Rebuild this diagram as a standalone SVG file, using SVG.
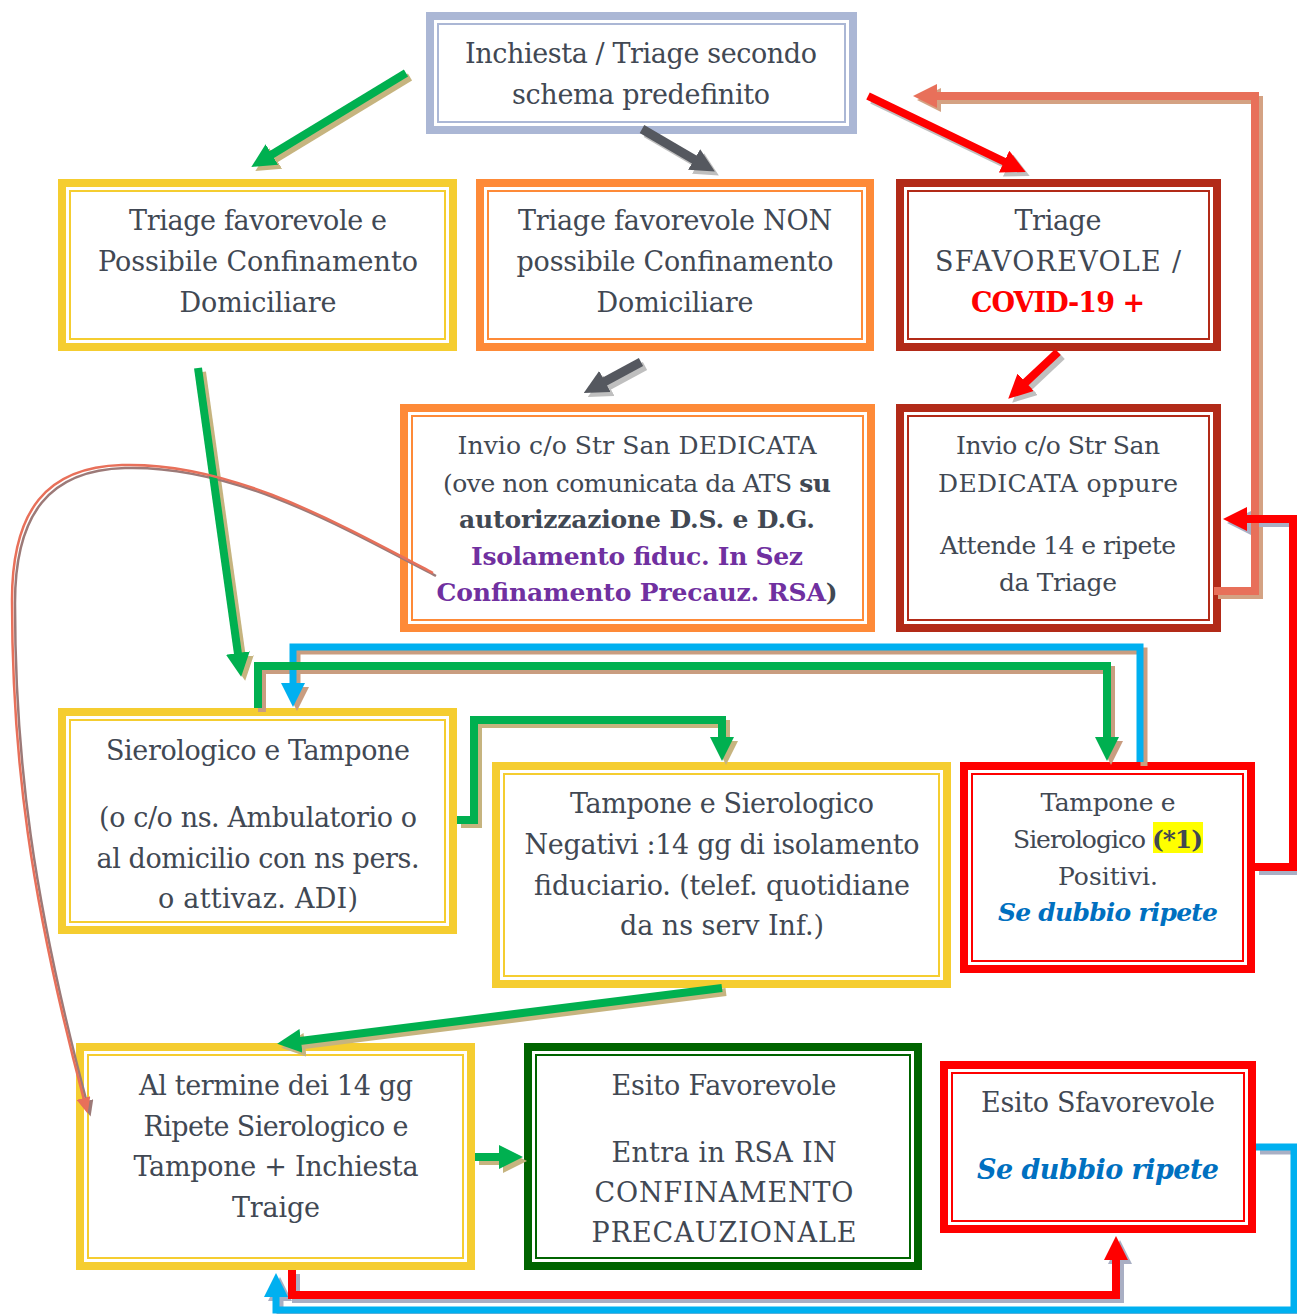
<svg xmlns="http://www.w3.org/2000/svg" width="1297" height="1314" viewBox="0 0 1297 1314">
<style>
.t{font-family:"DejaVu Serif","Liberation Serif",serif;font-size:27px;fill:#414853;text-anchor:middle}
.s{font-size:25px}
.b{font-weight:bold}
.red{fill:#ff0000;font-weight:bold}
.pur{fill:#7030a0;font-weight:bold}
.blu{fill:#0070c0;font-weight:bold;font-style:italic}
.o{fill:#ffffff;stroke-width:8}
.i{fill:none;stroke-width:2}
.ln{fill:none;stroke-linejoin:miter;stroke-linecap:butt}
</style>
<defs>
<marker id="aG" markerUnits="userSpaceOnUse" markerWidth="24" markerHeight="24" viewBox="0 0 24 24" refX="1" refY="12" orient="auto"><path d="M0,0 L24,12 L0,24 z" fill="#00b050"/></marker>
<marker id="aGs" markerUnits="userSpaceOnUse" markerWidth="24" markerHeight="24" viewBox="0 0 24 24" refX="1" refY="12" orient="auto"><path d="M0,0 L24,12 L0,24 z" fill="#c6b47f"/></marker>
<marker id="aK" markerUnits="userSpaceOnUse" markerWidth="24" markerHeight="24" viewBox="0 0 24 24" refX="1" refY="12" orient="auto"><path d="M0,0 L24,12 L0,24 z" fill="#55585f"/></marker>
<marker id="aKs" markerUnits="userSpaceOnUse" markerWidth="24" markerHeight="24" viewBox="0 0 24 24" refX="1" refY="12" orient="auto"><path d="M0,0 L24,12 L0,24 z" fill="#bfbfbf"/></marker>
<marker id="aR" markerUnits="userSpaceOnUse" markerWidth="24" markerHeight="24" viewBox="0 0 24 24" refX="1" refY="12" orient="auto"><path d="M0,0 L24,12 L0,24 z" fill="#ff0000"/></marker>
<marker id="aRs" markerUnits="userSpaceOnUse" markerWidth="24" markerHeight="24" viewBox="0 0 24 24" refX="1" refY="12" orient="auto"><path d="M0,0 L24,12 L0,24 z" fill="#a9afc4"/></marker>
<marker id="aS" markerUnits="userSpaceOnUse" markerWidth="24" markerHeight="24" viewBox="0 0 24 24" refX="1" refY="12" orient="auto"><path d="M0,0 L24,12 L0,24 z" fill="#e8705a"/></marker>
<marker id="aSs" markerUnits="userSpaceOnUse" markerWidth="24" markerHeight="24" viewBox="0 0 24 24" refX="1" refY="12" orient="auto"><path d="M0,0 L24,12 L0,24 z" fill="#d4a283"/></marker>
<marker id="aB" markerUnits="userSpaceOnUse" markerWidth="24" markerHeight="24" viewBox="0 0 24 24" refX="1" refY="12" orient="auto"><path d="M0,0 L24,12 L0,24 z" fill="#00b0f0"/></marker>
<marker id="aBs" markerUnits="userSpaceOnUse" markerWidth="24" markerHeight="24" viewBox="0 0 24 24" refX="1" refY="12" orient="auto"><path d="M0,0 L24,12 L0,24 z" fill="#c99d80"/></marker>
<marker id="aC" markerUnits="userSpaceOnUse" markerWidth="16" markerHeight="14" viewBox="0 0 16 14" refX="2" refY="7" orient="auto"><path d="M0,0 L16,7 L0,14 z" fill="#e8705a"/></marker>
<marker id="aCs" markerUnits="userSpaceOnUse" markerWidth="16" markerHeight="14" viewBox="0 0 16 14" refX="2" refY="7" orient="auto"><path d="M0,0 L16,7 L0,14 z" fill="#9c7a78"/></marker>
</defs>
<rect width="1297" height="1314" fill="#ffffff"/>

<g id="n1">
<rect class="o" x="430" y="16" width="423" height="114" stroke="#abb7d5"/>
<rect class="i" x="438" y="24" width="407" height="98" stroke="#abb7d5"/>
<text class="t" x="641" y="63" textLength="352">Inchiesta / Triage secondo</text>
<text class="t" x="641" y="104" textLength="258">schema predefinito</text>
</g>
<g id="n2">
<rect class="o" x="62" y="183" width="391" height="164" stroke="#f5cd30"/>
<rect class="i" x="70" y="191" width="375" height="148" stroke="#f5cd30"/>
<text class="t" x="258" y="230" textLength="258">Triage favorevole e</text>
<text class="t" x="258" y="271" textLength="320">Possibile Confinamento</text>
<text class="t" x="258" y="312" textLength="157">Domiciliare</text>
</g>
<g id="n3">
<rect class="o" x="480" y="183" width="390" height="164" stroke="#fe8a38"/>
<rect class="i" x="488" y="191" width="374" height="148" stroke="#fe8a38"/>
<text class="t" x="675" y="230" textLength="314">Triage favorevole NON</text>
<text class="t" x="675" y="271" textLength="317">possibile Confinamento</text>
<text class="t" x="675" y="312" textLength="157">Domiciliare</text>
</g>
<g id="n4">
<rect class="o" x="900" y="183" width="317" height="164" stroke="#b22a18"/>
<rect class="i" x="908" y="191" width="301" height="148" stroke="#b22a18"/>
<text class="t" x="1058" y="230" textLength="87">Triage</text>
<text class="t" x="1058" y="271" textLength="246">SFAVOREVOLE /</text>
<text class="t red" x="1058" y="312" textLength="174">COVID-19 +</text>
</g>
<g id="n5">
<rect class="o" x="404" y="408" width="467" height="220" stroke="#fe8a38"/>
<rect class="i" x="412" y="416" width="451" height="204" stroke="#fe8a38"/>
<text class="t s" x="637" y="454" textLength="359">Invio c/o Str San DEDICATA</text>
<text class="t s" x="637" y="492" textLength="388">(ove non comunicata da ATS <tspan class="b">su</tspan></text>
<text class="t s b" x="637" y="528" textLength="356">autorizzazione D.S. e D.G.</text>
<text class="t s pur" x="637" y="565" textLength="332">Isolamento fiduc. In Sez</text>
<text class="t s b" x="637" y="601" textLength="401"><tspan class="pur">Confinamento Precauz. RSA</tspan>)</text>
</g>
<g id="n6">
<rect class="o" x="900" y="408" width="317" height="220" stroke="#b22a18"/>
<rect class="i" x="908" y="416" width="301" height="204" stroke="#b22a18"/>
<text class="t s" x="1058" y="454" textLength="204">Invio c/o Str San</text>
<text class="t s" x="1058" y="492" textLength="240">DEDICATA oppure</text>
<text class="t s" x="1058" y="554" textLength="236">Attende 14 e ripete</text>
<text class="t s" x="1058" y="591" textLength="118">da Triage</text>
</g>
<g id="n7">
<rect class="o" x="62" y="712" width="391" height="218" stroke="#f5cd30"/>
<rect class="i" x="70" y="720" width="375" height="202" stroke="#f5cd30"/>
<text class="t" x="258" y="760" textLength="304">Sierologico e Tampone</text>
<text class="t" x="258" y="827" textLength="318">(o c/o ns. Ambulatorio o</text>
<text class="t" x="258" y="868" textLength="323">al domicilio con ns pers.</text>
<text class="t" x="258" y="908" textLength="200">o attivaz. ADI)</text>
</g>
<g id="n8">
<rect class="o" x="496" y="766" width="451" height="218" stroke="#f5cd30"/>
<rect class="i" x="504" y="774" width="435" height="202" stroke="#f5cd30"/>
<text class="t" x="722" y="813" textLength="304">Tampone e Sierologico</text>
<text class="t" x="722" y="854" textLength="395">Negativi :14 gg di isolamento</text>
<text class="t" x="722" y="895" textLength="376">fiduciario. (telef. quotidiane</text>
<text class="t" x="722" y="935" textLength="204">da ns serv Inf.)</text>
</g>
<g id="n9">
<rect class="o" x="964" y="766" width="287" height="203" stroke="#ff0000"/>
<rect class="i" x="972" y="774" width="271" height="187" stroke="#ff0000"/>
<rect x="1153" y="822" width="50" height="31" fill="#ffff00"/>
<text class="t s" x="1108" y="811" textLength="135">Tampone e</text>
<text class="t s" x="1108" y="848" textLength="190">Sierologico <tspan class="b">(*1)</tspan></text>
<text class="t s" x="1108" y="885" textLength="100">Positivi.</text>
<text class="t s blu" x="1108" y="921" textLength="220">Se dubbio ripete</text>
</g>
<g id="n10">
<rect class="o" x="80" y="1047" width="391" height="219" stroke="#f5cd30"/>
<rect class="i" x="88" y="1055" width="375" height="203" stroke="#f5cd30"/>
<text class="t" x="276" y="1095" textLength="274">Al termine dei 14 gg</text>
<text class="t" x="276" y="1136" textLength="265">Ripete Sierologico e</text>
<text class="t" x="276" y="1176" textLength="285">Tampone + Inchiesta</text>
<text class="t" x="276" y="1217" textLength="88">Traige</text>
</g>
<g id="n11">
<rect class="o" x="528" y="1047" width="390" height="219" stroke="#006400"/>
<rect class="i" x="536" y="1055" width="374" height="203" stroke="#006400"/>
<text class="t" x="724" y="1095" textLength="225">Esito Favorevole</text>
<text class="t" x="724" y="1162" textLength="225">Entra in RSA IN</text>
<text class="t" x="724" y="1202" textLength="259">CONFINAMENTO</text>
<text class="t" x="724" y="1242" textLength="265">PRECAUZIONALE</text>
</g>
<g id="n12">
<rect class="o" x="944" y="1065" width="308" height="164" stroke="#ff0000"/>
<rect class="i" x="952" y="1073" width="292" height="148" stroke="#ff0000"/>
<text class="t" x="1098" y="1112" textLength="234">Esito Sfavorevole</text>
<text class="t blu" x="1098" y="1179" textLength="242">Se dubbio ripete</text>
</g>

<g id="connectors">
<g transform="translate(4,4)">
<path class="ln" d="M406,73 L271,155" stroke="#c6b47f" stroke-width="8" marker-end="url(#aGs)"/>
<path class="ln" d="M642,129 L695,160" stroke="#bfbfbf" stroke-width="9" marker-end="url(#aKs)"/>
<path class="ln" d="M868,96 L1005,162" stroke="#bfbfbf" stroke-width="8" marker-end="url(#aKs)"/>
<path class="ln" d="M198,368 L238,654" stroke="#c6b47f" stroke-width="8" marker-end="url(#aGs)"/>
<path class="ln" d="M641,362 L604,382" stroke="#bfbfbf" stroke-width="9" marker-end="url(#aKs)"/>
<path class="ln" d="M1058,352 L1025,383" stroke="#bfbfbf" stroke-width="8" marker-end="url(#aKs)"/>
<path class="ln" d="M722,988 L300,1041" stroke="#c6b47f" stroke-width="8" marker-end="url(#aGs)"/>
<path class="ln" d="M475,1157 H500" stroke="#c6b47f" stroke-width="8" marker-end="url(#aGs)"/>
<path class="ln" d="M1214,591 H1255 V96 H936" stroke="#d4a283" stroke-width="8" marker-end="url(#aSs)"/>
<path class="ln" d="M1140,762 V647 H293 V684" stroke="#c99d80" stroke-width="7" marker-end="url(#aBs)"/>
<path class="ln" d="M258,708 V666 H1107 V738" stroke="#c99d80" stroke-width="8" marker-end="url(#aBs)"/>
<path class="ln" d="M457,820 H474 V720 H722 V738" stroke="#c6b47f" stroke-width="8" marker-end="url(#aGs)"/>
<path class="ln" d="M1255,867 H1293 V519 H1246" stroke="#a9afc4" stroke-width="8" marker-end="url(#aRs)"/>
<path class="ln" d="M292,1270 V1295 H1116 V1259" stroke="#a9afc4" stroke-width="8" marker-end="url(#aRs)"/>
<path class="ln" d="M1256,1147 H1294 V1310 H276 V1296" stroke="#a9afc4" stroke-width="7" marker-end="url(#aRs)"/>
</g>
<path class="ln" d="M436,576 C330,520 230,465 125,468 C50,470 15,513 15,603 C15,760 33,900 87,1103" stroke="#9c7a78" stroke-width="2.5" marker-end="url(#aCs)"/>
<path class="ln" d="M406,73 L271,155" stroke="#00b050" stroke-width="8" marker-end="url(#aG)"/>
<path class="ln" d="M642,129 L695,160" stroke="#55585f" stroke-width="9" marker-end="url(#aK)"/>
<path class="ln" d="M868,96 L1005,162" stroke="#ff0000" stroke-width="8" marker-end="url(#aR)"/>
<path class="ln" d="M198,368 L238,654" stroke="#00b050" stroke-width="8" marker-end="url(#aG)"/>
<path class="ln" d="M641,362 L604,382" stroke="#55585f" stroke-width="9" marker-end="url(#aK)"/>
<path class="ln" d="M1058,352 L1025,383" stroke="#ff0000" stroke-width="8" marker-end="url(#aR)"/>
<path class="ln" d="M722,988 L300,1041" stroke="#00b050" stroke-width="8" marker-end="url(#aG)"/>
<path class="ln" d="M475,1157 H500" stroke="#00b050" stroke-width="8" marker-end="url(#aG)"/>
<path class="ln" d="M1214,591 H1255 V96 H936" stroke="#e8705a" stroke-width="8" marker-end="url(#aS)"/>
<path class="ln" d="M1140,762 V647 H293 V684" stroke="#00b0f0" stroke-width="7" marker-end="url(#aB)"/>
<path class="ln" d="M258,708 V666 H1107 V738" stroke="#00b050" stroke-width="8" marker-end="url(#aG)"/>
<path class="ln" d="M457,820 H474 V720 H722 V738" stroke="#00b050" stroke-width="8" marker-end="url(#aG)"/>
<path class="ln" d="M1255,867 H1293 V519 H1246" stroke="#ff0000" stroke-width="8" marker-end="url(#aR)"/>
<path class="ln" d="M292,1270 V1295 H1116 V1259" stroke="#ff0000" stroke-width="8" marker-end="url(#aR)"/>
<path class="ln" d="M1256,1147 H1294 V1310 H276 V1296" stroke="#00b0f0" stroke-width="7" marker-end="url(#aB)"/>
<path class="ln" d="M433,573 C327,517 227,462 122,465 C47,467 12,510 12,600 C12,757 30,897 84,1100" stroke="#e8705a" stroke-width="2.5" marker-end="url(#aC)"/>
</g>
</svg>
